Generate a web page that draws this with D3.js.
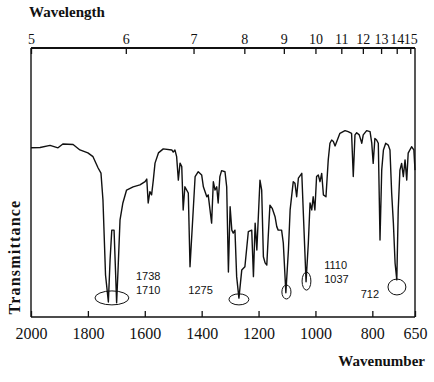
<!DOCTYPE html>
<html>
<head>
    <meta charset="utf-8">
    <style>
        body { margin: 0; background: #fff; }
        svg { display: block; }
        .axis text { font-family: "Liberation Serif", serif; fill: #111; }
        .axis line { stroke: #111; stroke-width: 1.3px; }
        .axis path.domain { display: none; }
        line.frame { stroke: #111; stroke-width: 1.4px; }
        path.spectrum { fill: none; stroke: #111; stroke-width: 1.4px; stroke-linejoin: round; }
        ellipse.mark { fill: none; stroke: #111; stroke-width: 1px; }
        text.peak { font-family: "Liberation Sans", Arial, sans-serif; font-size: 11px; fill: #111; }
        text.title { font-family: "Liberation Serif", serif; font-size: 15px; font-weight: bold; fill: #111; }
    </style>
</head>
<body>
<div id="chart"></div>
<script src="https://cdn.jsdelivr.net/npm/d3@7"></script>
<script>

    // spectrum: wavenumber (cm-1) and transmittance (%)
    var wavenumber = [2000, 1968, 1933, 1905, 1888, 1852, 1828, 1800, 1782, 1764, 1754, 1747, 1738,
        1728, 1722, 1716, 1708, 1703, 1699, 1694, 1687, 1677, 1664, 1641, 1617, 1599, 1593, 1588,
        1582, 1576, 1570, 1564, 1552, 1535, 1505, 1500, 1494, 1488, 1482, 1476, 1470, 1465, 1459,
        1447, 1441, 1429, 1423, 1412, 1400, 1394, 1382, 1377, 1365, 1359, 1353, 1347, 1342, 1336,
        1330, 1318, 1312, 1306, 1300, 1294, 1289, 1283, 1277, 1269, 1259, 1248, 1236, 1224, 1218,
        1212, 1206, 1195, 1189, 1183, 1177, 1171, 1166, 1160, 1152, 1142, 1136, 1131, 1119, 1113,
        1104, 1095, 1089, 1078, 1072, 1066, 1060, 1048, 1043, 1033, 1025, 1019, 1013, 1008, 1002,
        996, 990, 984, 978, 972, 963, 955, 949, 943, 937, 931, 923, 914, 896, 885, 873, 867, 861,
        855, 846, 837, 832, 820, 808, 802, 797, 791, 785, 779, 773, 767, 761, 753, 744, 738, 732,
        726, 720, 714, 709, 703, 697, 691, 685, 679, 674, 662, 654, 650];
    var transmittance = [62.9, 63.0, 63.8, 62.9, 64.3, 64.1, 62.1, 61.0, 59.6, 55.4, 53.5, 43.5, 15.6,
        5.6, 21.2, 32.3, 32.3, 17.5, 5.3, 17.5, 36.1, 42.4, 47.2, 48.4, 49.1, 50.3, 51.3, 42.4,
        46.6, 45.4, 50.9, 57.2, 61.0, 62.5, 62.1, 61.3, 62.1, 59.6, 50.9, 57.2, 55.9, 39.8, 48.4,
        46.1, 18.7, 41.0, 52.2, 54.0, 52.8, 48.4, 44.7, 45.4, 34.9, 50.3, 47.2, 48.4, 42.4, 52.2,
        54.4, 54.0, 48.4, 16.7, 41.0, 32.3, 31.2, 32.3, 15.0, 7.0, 17.5, 18.7, 31.7, 32.3, 15.0,
        34.9, 24.9, 50.9, 47.2, 22.4, 20.1, 19.3, 29.9, 41.6, 40.4, 37.3, 33.6, 32.3, 32.3, 27.5,
        9.0, 24.9, 39.8, 50.3, 49.7, 44.7, 51.6, 53.4, 39.8, 13.1, 27.5, 42.4, 39.8, 44.7, 39.8,
        52.2, 52.8, 50.3, 53.4, 45.4, 44.7, 58.4, 64.6, 65.8, 65.2, 63.6, 65.8, 68.3, 69.3, 68.9, 68.3, 52.2, 67.7,
        68.5, 67.7, 64.6, 67.7, 69.3, 68.9, 64.6, 57.1, 66.4, 65.8, 64.6, 28.6, 54.6, 62.1, 64.6, 63.9, 62.1, 46.0,
        34.9, 20.0, 13.8, 39.8, 54.6, 57.1, 52.2, 58.4, 50.9, 60.9, 63.3, 62.1, 54.6];

    var wavenumberTicks = [2000, 1800, 1600, 1400, 1200, 1000, 800, 650];
    var wavelengthTicks = [5, 6, 7, 8, 9, 10, 11, 12, 13, 14, 15];

    // peak labels: text lines, anchored at (wavenumber, transmittance)
    var peakText = [["1738", "1710"], ["1275"], ["1110", "1037"], ["712"]];
    var peakTextW = [1631, 1447, 969, 841];
    var peakTextT = [13.9, 8.7, 18.0, 7.2];

    // circled bands: wavenumber span and transmittance span
    var circleW = [[1775, 1656], [1304, 1234], [1118, 1086], [1047, 1016], [745, 682]];
    var circleT = [[9.7, 4.5], [8.6, 4.5], [11.9, 6.7], [16.7, 10.0], [14.1, 8.2]];

    var width = 434, height = 382;
    var plotLeft = 31, plotRight = 415, plotTop = 48, plotBottom = 317;

    var svg = d3.select("#chart").append("svg")
        .attr("width", width)
        .attr("height", height);

    var x = d3.scaleLinear().domain([2000, 650]).range([plotLeft, plotRight]);
    var y = d3.scaleLinear().domain([0, 100]).range([plotBottom, plotTop]);

    // frame
    svg.append("line").attr("class", "frame").attr("x1", plotLeft).attr("x2", plotRight)
        .attr("y1", plotTop).attr("y2", plotTop).style("stroke-width", "2px");
    svg.append("line").attr("class", "frame").attr("x1", plotLeft).attr("x2", plotRight)
        .attr("y1", plotBottom).attr("y2", plotBottom);
    svg.append("line").attr("class", "frame").attr("x1", plotLeft).attr("x2", plotLeft)
        .attr("y1", plotTop).attr("y2", plotBottom);
    svg.append("line").attr("class", "frame").attr("x1", plotRight).attr("x2", plotRight)
        .attr("y1", plotTop).attr("y2", plotBottom);

    // bottom axis (wavenumber), ticks pointing in
    svg.append("g")
        .attr("class", "axis")
        .attr("transform", "translate(0," + plotBottom + ")")
        .call(d3.axisBottom(x).tickValues(wavenumberTicks).tickSize(-6).tickPadding(11)
            .tickFormat(d3.format("d")))
        .selectAll("text").style("font-size", "16px");

    // top axis (wavelength in micrometres), same scale via 10000/lambda
    svg.append("g")
        .attr("class", "axis")
        .attr("transform", "translate(0," + plotTop + ")")
        .call(d3.axisTop(x).tickValues(wavelengthTicks.map(function (l) {
            return 10000 / l;
        })).tickSize(-6).tickPadding(4).tickFormat(function (d, i) {
            return wavelengthTicks[i];
        }))
        .selectAll("text").style("font-size", "14px");

    // spectrum
    var line = d3.line()
        .x(function (d, i) { return x(wavenumber[i]); })
        .y(function (d) { return y(d); });

    svg.append("path")
        .datum(transmittance)
        .attr("class", "spectrum")
        .attr("d", line);

    // circled bands
    svg.selectAll("ellipse.mark")
        .data(circleW)
        .enter()
        .append("ellipse")
        .attr("class", "mark")
        .attr("cx", function (d) { return (x(d[0]) + x(d[1])) / 2; })
        .attr("rx", function (d) { return Math.abs(x(d[1]) - x(d[0])) / 2; })
        .attr("cy", function (d, i) { return (y(circleT[i][0]) + y(circleT[i][1])) / 2; })
        .attr("ry", function (d, i) { return Math.abs(y(circleT[i][1]) - y(circleT[i][0])) / 2; });

    // peak labels
    peakText.forEach(function (lines, i) {
        var t = svg.append("text")
            .attr("class", "peak")
            .attr("x", x(peakTextW[i]))
            .attr("y", y(peakTextT[i]));
        lines.forEach(function (s, j) {
            t.append("tspan")
                .attr("x", x(peakTextW[i]))
                .attr("dy", j === 0 ? 0 : 14)
                .text(s);
        });
    });

    // titles
    svg.append("text")
        .attr("class", "title")
        .attr("x", 29)
        .attr("y", 17)
        .text("Wavelength");

    svg.append("text")
        .attr("class", "title")
        .attr("text-anchor", "end")
        .attr("x", 425)
        .attr("y", 366)
        .text("Wavenumber");

    svg.append("text")
        .attr("class", "title")
        .attr("text-anchor", "middle")
        .style("font-size", "16px")
        .style("letter-spacing", "1.2px")
        .attr("transform", "translate(20,257) rotate(-90)")
        .text("Transmittance");

</script>
</body>
</html>
